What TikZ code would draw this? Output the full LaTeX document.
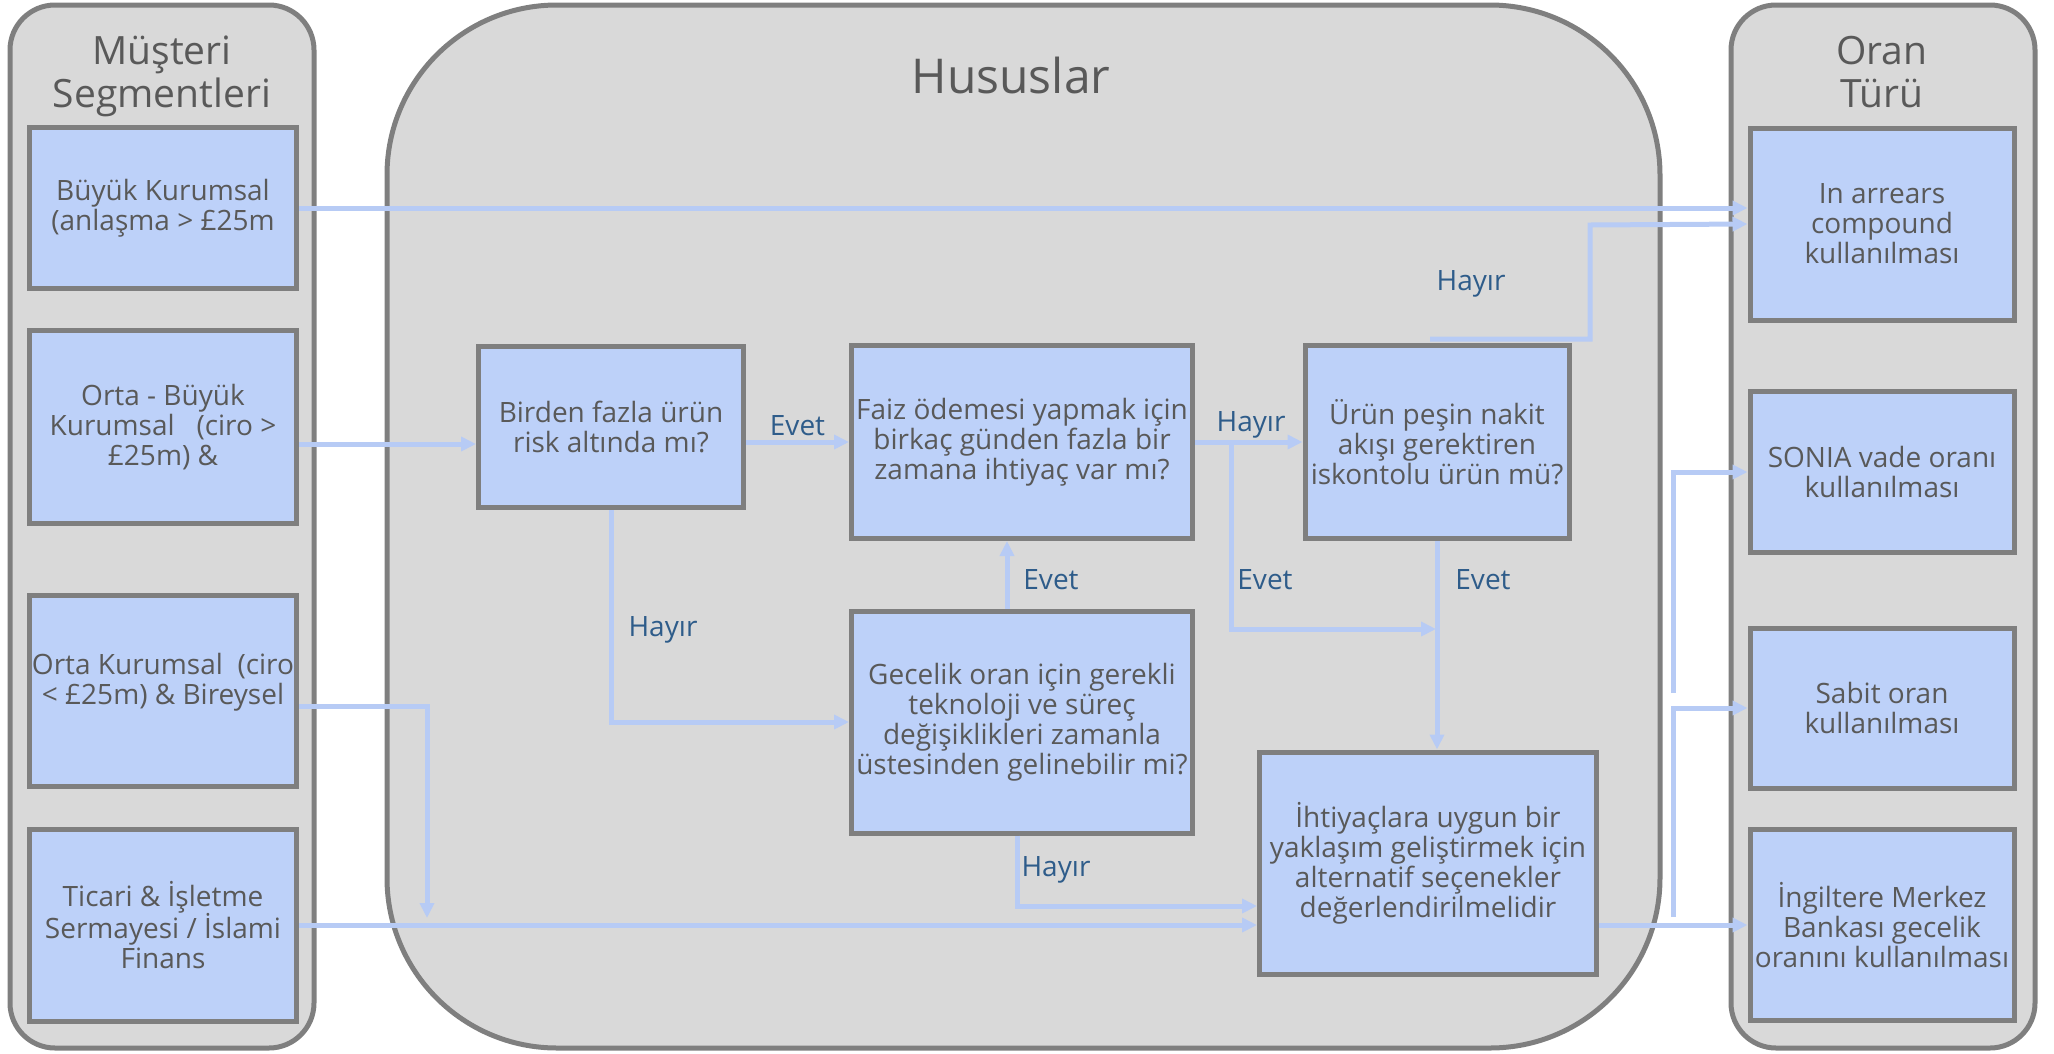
\documentclass[tikz,border=0pt]{standalone}
\usepackage{fontspec}
\setmainfont{Open Sans}
\usetikzlibrary{arrows.meta,calc}
\definecolor{boxblue}{HTML}{BDD1F9}
\definecolor{arrowblue}{HTML}{B7CBF5}
\definecolor{panelgray}{HTML}{D9D9D9}
\definecolor{edgegray}{HTML}{7F7F7F}
\definecolor{textgray}{HTML}{595959}
\definecolor{lblblue}{HTML}{2E5C8A}

\begin{document}
\begin{tikzpicture}[x=1pt, y=-1pt,
        panel/.style={draw=edgegray, fill=panelgray, line width=5pt},
        box/.style={draw=edgegray, fill=boxblue, line width=5pt, text=textgray, align=center, inner sep=0pt, font=\fontsize{28}{30}\selectfont},
        arr/.style={draw=arrowblue, line width=5pt, -{Triangle[length=15pt,width=14pt]}},
        lbl/.style={text=lblblue, font=\fontsize{28}{30}\selectfont},
        ttl/.style={text=textgray, align=center, font=\fontsize{39}{43}\selectfont}]
    \useasboundingbox (0,0) rectangle (2054,1053);

    % three columns
    \draw[panel, rounded corners=45pt] (10,5) rectangle (314,1048);
    \draw[panel, rounded corners=170pt] (387,5) rectangle (1660,1048);
    \draw[panel, rounded corners=45pt] (1731,5) rectangle (2035,1048);

    \node[ttl] (segtitle) at (162,76) {Müşteri\\Segmentleri};
    \node[ttl, font=\fontsize{48}{52}\selectfont] (hustitle) at (1011,75) {Hususlar};
    \node[ttl] (orantitle) at (1882,72) {Oran\\Türü};

    % segments
    \node[box, minimum width=267pt, minimum height=161pt] (buyuk) at (163,208) {Büyük Kurumsal\\(anlaşma > £25m};
    \node[box, minimum width=267pt, minimum height=193pt] (ortabuyuk) at (163,427) {Orta - Büyük\\Kurumsal\ \ \ (ciro >\\£25m) \&};
    \node[box, minimum width=267pt, minimum height=191pt, text depth=25pt] (orta) at (163,691) {Orta Kurumsal\ \ (ciro\\< £25m) \& Bireysel};
    \node[box, minimum width=267pt, minimum height=192pt] (ticari) at (163,925) {Ticari \& İşletme\\Sermayesi / İslami\\Finans};

    % questions
    \node[box, minimum width=265pt, minimum height=161pt] (birden) at (611,427) {Birden fazla ürün\\risk altında mı?};
    \node[box, minimum width=341pt, minimum height=193pt] (faiz) at (1022,442) {Faiz ödemesi yapmak için\\birkaç günden fazla bir\\zamana ihtiyaç var mı?};
    \node[box, minimum width=264pt, minimum height=193pt] (pesin) at (1437,442) {Ürün peşin nakit\\akışı gerektiren\\iskontolu ürün mü?};
    \node[box, minimum width=341pt, minimum height=222pt] (gecelik) at (1022,722) {Gecelik oran için gerekli\\teknoloji ve süreç\\değişiklikleri zamanla\\üstesinden gelinebilir mi?};
    \node[box, minimum width=337pt, minimum height=222pt] (alt) at (1428,863) {İhtiyaçlara uygun bir\\yaklaşım geliştirmek için\\alternatif seçenekler\\değerlendirilmelidir};

    % rate types
    \node[box, minimum width=264pt, minimum height=192pt] (arrears) at (1882,224) {In arrears\\compound\\kullanılması};
    \node[box, minimum width=264pt, minimum height=161pt] (sonia) at (1882,472) {SONIA vade oranı\\kullanılması};
    \node[box, minimum width=264pt, minimum height=160pt] (sabit) at (1882,708) {Sabit oran\\kullanılması};
    \node[box, minimum width=264pt, minimum height=191pt] (merkez) at (1882,925) {İngiltere Merkez\\Bankası gecelik\\oranını kullanılması};

    \coordinate (h1) at (1430,339);
    \coordinate (h2) at (1590,225);
    \coordinate (j1) at (1231,444);
    \coordinate (j2) at (1436,629);
    \coordinate (d1) at (427,918);
    \coordinate (s1) at (1673,917);
    \coordinate (s2) at (1673,693);

    \draw[arr] (buyuk.east) -- (buyuk.east -| arrears.west);
    \draw[arr] ($(ortabuyuk.east)+(0,17)$) -- ($(birden.west)+(0,17)$);
    \draw[arr] (birden.east |- faiz.west) -- (faiz.west) node[lbl, midway, above] (evet1) {Evet};
    \draw[arr] (faiz.east) -- (pesin.west);
    \draw[arr] (j1) |- (j2);
    \draw[arr] (h1) -| (h2) -- (arrears.west);
    \draw[arr] (pesin.south) -- (pesin.south |- alt.north);
    \draw[arr] (birden.south) |- (gecelik.west);
    \draw[arr] ($(gecelik.north)+(-15,0)$) -- ($(faiz.south)+(-15,0)$);
    \draw[arr] ($(gecelik.south)+(-5,0)$) |- ($(alt.west)+(0,43)$);
    \draw[arr] ($(orta.east)+(0,15)$) -| (d1);
    \draw[arr] (ticari.east) -- (ticari.east -| alt.west);
    \draw[arr] (alt.east |- merkez.west) -- (merkez.west);
    \draw[arr] (s1) |- (sabit.west);
    \draw[arr] (s2) |- (sonia.west);

    \node[lbl] (hayir1) at (1251,425) {Hayır};
    \node[lbl] (hayir2) at (1471,284) {Hayır};
    \node[lbl] (hayir3) at (663,630) {Hayır};
    \node[lbl] (hayir4) at (1056,870) {Hayır};
    \node[lbl] (evet2) at (1051,580) {Evet};
    \node[lbl] (evet3) at (1265,580) {Evet};
    \node[lbl] (evet4) at (1483,580) {Evet};
\end{tikzpicture}
\end{document}
